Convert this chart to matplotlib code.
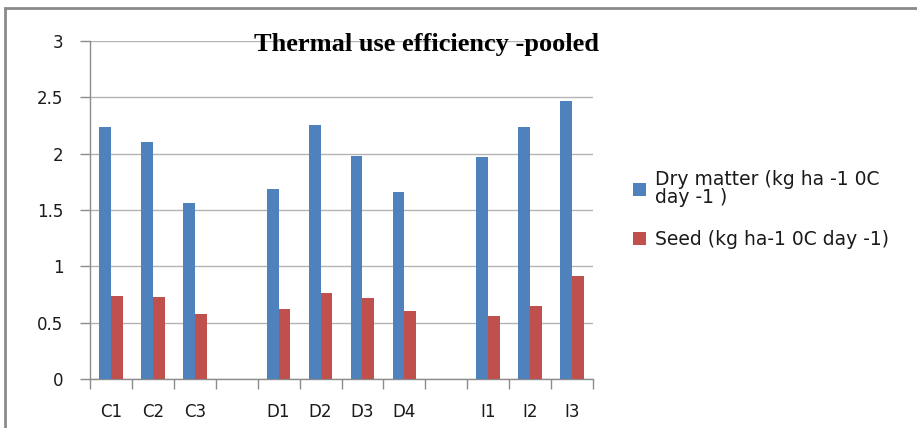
import numpy as np
import matplotlib
matplotlib.use("Agg")
import matplotlib.pyplot as plt
from matplotlib.patches import Patch, Rectangle

categories = ["C1", "C2", "C3", "", "D1", "D2", "D3", "D4", "", "I1", "I2", "I3"]
dry_matter = [2.24, 2.10, 1.56, np.nan, 1.69, 2.25, 1.98, 1.66, np.nan, 1.97, 2.24, 2.47]
seed = [0.74, 0.725, 0.575, np.nan, 0.625, 0.765, 0.715, 0.60, np.nan, 0.56, 0.65, 0.915]
series_labels = ["Dry matter (kg ha -1 0C\nday -1 )", "Seed (kg ha-1 0C day -1)"]
title = "Thermal use efficiency -pooled"
yticks = [0, 0.5, 1, 1.5, 2, 2.5, 3]

blue = "#4F81BD"
red = "#C0504D"
axis_gray = "#8C8C8C"
grid_gray = "#B4B4B4"

fig = plt.figure(figsize=(9.17, 4.28), dpi=100)
ax = fig.add_axes([90/917, 1 - 379/428, (593-90)/917, (379-41)/428])

x = np.arange(len(categories))
w = 0.28
ax.bar(x - w/2, dry_matter, width=w, color=blue, label=series_labels[0], zorder=3)
ax.bar(x + w/2, seed, width=w, color=red, label=series_labels[1], zorder=3)

ax.set_xlim(-0.5, len(categories) - 0.5)
ax.set_ylim(0, 3)
ax.set_yticks(yticks)
ax.set_yticklabels([f"{v:g}" for v in yticks])
ax.yaxis.grid(True, color=grid_gray, linewidth=1, zorder=0)
ax.set_axisbelow(True)

ax.set_xticks(x)
ax.set_xticklabels(categories)
ax.set_xticks(np.arange(len(categories) + 1) - 0.5, minor=True)
ax.tick_params(axis="x", which="major", length=0, pad=17, labelsize=12, labelcolor="#1a1a1a")
ax.tick_params(axis="x", which="minor", length=7, color=axis_gray, width=1)
ax.tick_params(axis="y", which="major", length=7, color=axis_gray, width=1, pad=12,
               labelsize=12, labelcolor="#1a1a1a")

for s in ["top", "right"]:
    ax.spines[s].set_visible(False)
for s in ["left", "bottom"]:
    ax.spines[s].set_color(axis_gray)
    ax.spines[s].set_linewidth(1)

fig.text(426/917, 1 - 44/428, title, ha="center", va="center",
         family="Liberation Serif", fontweight="bold", fontsize=19, color="black")

handles = [Patch(facecolor=blue), Patch(facecolor=red)]
leg = fig.legend(handles, series_labels, loc="upper left",
                 bbox_to_anchor=(633/917, 1 - 170/428), frameon=False,
                 fontsize=13.5, handlelength=0.7, handleheight=0.7, handletextpad=0.45,
                 labelspacing=1.2, borderaxespad=0, borderpad=0)
for t in leg.get_texts():
    t.set_linespacing(0.95)
    t.set_color("#1a1a1a")

fig.patches.append(Rectangle((5/917, -0.05), 1.2, 1 - 8/428 + 0.05,
                             transform=fig.transFigure, fill=False,
                             edgecolor="#8a8a8a", linewidth=2))

fig.savefig("out.png", dpi=100)
